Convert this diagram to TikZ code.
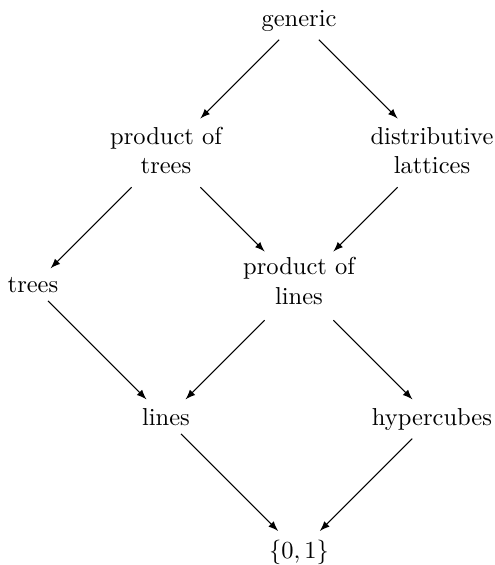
\documentclass[tikz,border=0pt]{standalone}
\usetikzlibrary{cd}
\newcommand\twoline[3]{\raisebox{#1}[13pt][8pt]{\vtop{\halign{\hfil##\hfil\cr#2\cr#3\cr}}}}
\begin{document}
\begin{tikzpicture}[x=0.40816pt,y=-0.40816pt,
  lbl/.style={shape=asymmetrical rectangle,
    /tikz/commutative diagrams/center yshift=0pt, inner sep=0.3333em},
  arr/.style={-latex, line width=0.4pt}]
\useasboundingbox (0,0) rectangle (495,565);
\node[lbl] (gen)  at (299,26)  {generic};
\node[lbl] (pt)   at (166,159) {\twoline{6pt}{product of}{trees}};
\node[lbl] (dl)   at (432,159) {\twoline{6pt}{distributive}{lattices}};
\node[lbl] (tr)   at (33,292)  {trees};
\node[lbl] (pl)   at (299,292) {\twoline{7pt}{product of}{lines}};
\node[lbl] (li)   at (166,425) {lines};
\node[lbl] (hc)   at (432,425) {hypercubes};
\node[lbl] (zo)   at (299,558) {$\{0,1\}$};
\draw[arr] (gen) -- (pt);
\draw[arr] (gen) -- (dl);
\draw[arr] (pt) -- (tr);
\draw[arr] (pt) -- (pl);
\draw[arr] (dl) -- (pl);
\draw[arr] (tr) -- (li);
\draw[arr] (pl) -- (li);
\draw[arr] (pl) -- (hc);
\draw[arr] (li) -- (zo);
\draw[arr] (hc) -- (zo);
\end{tikzpicture}
\end{document}
